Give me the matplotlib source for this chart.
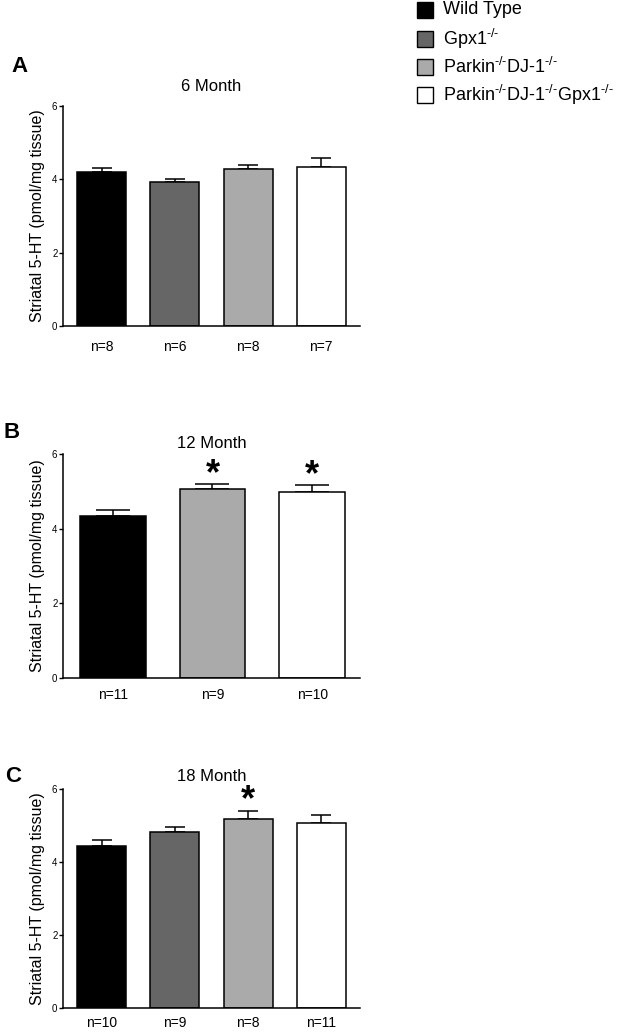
import matplotlib
matplotlib.use("Agg")
import matplotlib.pyplot as plt
from matplotlib.patches import Rectangle

plt.rcParams['font.family'] = ['Liberation Sans', 'DejaVu Sans']
plt.rcParams['mathtext.fontset'] = 'custom'
plt.rcParams['mathtext.rm'] = 'Liberation Sans'
plt.rcParams['mathtext.it'] = 'Liberation Sans'

groups = ["Wild Type", r"Gpx1$^{\text{-/-}}$",
          r"Parkin$^{\text{-/-}}$DJ-1$^{\text{-/-}}$",
          r"Parkin$^{\text{-/-}}$DJ-1$^{\text{-/-}}$Gpx1$^{\text{-/-}}$"]
colors = ["#000000", "#666666", "#aaaaaa", "#ffffff"]

# 6 month
a_mean = [4.19, 3.93, 4.27, 4.35]
a_err = [0.11, 0.09, 0.11, 0.22]
a_n = ["n=8", "n=6", "n=8", "n=7"]
a_idx = [0, 1, 2, 3]
a_star = [False, False, False, False]

# 12 month (no Gpx1-/- group)
b_mean = [4.35, 5.06, 4.98]
b_err = [0.16, 0.14, 0.20]
b_n = ["n=11", "n=9", "n=10"]
b_idx = [0, 2, 3]
b_star = [False, True, True]

# 18 month
c_mean = [4.44, 4.82, 5.19, 5.08]
c_err = [0.16, 0.13, 0.22, 0.20]
c_n = ["n=10", "n=9", "n=8", "n=11"]
c_idx = [0, 1, 2, 3]
c_star = [False, False, True, False]

W, H = 623, 1033
fig = plt.figure(figsize=(W / 100, H / 100), dpi=100)


def panel(rect, title, letter, letter_xy, mean, err, nlab, idx, star,
          width, cap, xlim, title_pad, npad):
    l, t, r, b = rect
    ax = fig.add_axes([l / W, 1 - b / H, (r - l) / W, (b - t) / H])
    x = list(range(len(mean)))
    ax.bar(x, mean, width=width, color=[colors[i] for i in idx],
           edgecolor='black', linewidth=1.1, zorder=2)
    ax.errorbar(x, mean, yerr=[[0] * len(err), err], fmt='none',
                ecolor='black', elinewidth=1.1, capsize=cap,
                capthick=1.1, zorder=1)
    for xi, m, e, s in zip(x, mean, err, star):
        if s:
            ax.text(xi, m + e - 0.22, "*", ha='center', va='bottom',
                    fontsize=26, fontweight='bold')
    ax.set_ylim(0, 6)
    ax.set_xlim(*xlim)
    ax.set_yticks([0, 2, 4, 6])
    ax.set_xticks(x)
    ax.set_xticklabels(nlab, fontsize=10)
    ax.tick_params(axis='x', length=0, pad=npad)
    ax.tick_params(axis='y', length=3, width=1.0, labelsize=7, pad=1)
    for sp in ['top', 'right']:
        ax.spines[sp].set_visible(False)
    for sp in ['left', 'bottom']:
        ax.spines[sp].set_linewidth(1.1)
    ax.set_ylabel("Striatal 5-HT (pmol/mg tissue)", fontsize=11.5, labelpad=5)
    ax.set_title(title, fontsize=12, pad=title_pad)
    fig.text(letter_xy[0] / W, 1 - letter_xy[1] / H, letter, fontsize=16,
             fontweight='bold', ha='center', va='center')
    return ax


panel((63, 106, 360, 326), "6 Month", "A", (19, 66), a_mean, a_err, a_n,
      a_idx, a_star, 0.67, 7.5, (-0.53, 3.53), 11, 10)
panel((63, 454, 360, 678), "12 Month", "B", (12, 433), b_mean, b_err, b_n,
      b_idx, b_star, 0.66, 12, (-0.5, 2.48), 4, 7)
panel((63, 789, 360, 1008), "18 Month", "C", (13, 777), c_mean, c_err, c_n,
      c_idx, c_star, 0.67, 7.5, (-0.53, 3.53), 6, 6)

# legend, drawn by hand so the rows are evenly spaced
row_y = [9.5, 38.5, 67, 94.5]
for lab, col, yy in zip(groups, colors, row_y):
    fig.add_artist(Rectangle(((417) / W, 1 - (yy + 8) / H), 16 / W, 16 / H,
                             transform=fig.transFigure, facecolor=col,
                             edgecolor='black', linewidth=1.0))
    fig.text(443 / W, 1 - yy / H, lab, fontsize=13, ha='left', va='center')

fig.savefig("out.png", dpi=100)
